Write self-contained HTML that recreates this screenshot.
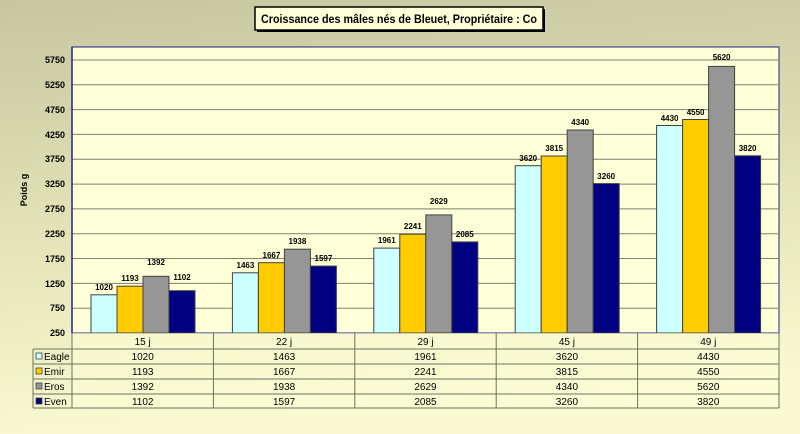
<!DOCTYPE html><html><head><meta charset="utf-8"><style>body{margin:0}svg{display:block}</style></head><body>
<svg width="800" height="434" xmlns="http://www.w3.org/2000/svg" font-family="Liberation Sans, sans-serif">
<defs><linearGradient id="bg" x1="0" y1="0" x2="0.15" y2="1"><stop offset="0" stop-color="#c6c6a0"/><stop offset="0.55" stop-color="#e4e4b8"/><stop offset="1" stop-color="#fafad2"/></linearGradient></defs>
<rect width="800" height="434" fill="url(#bg)"/>
<rect x="257" y="9" width="288" height="23" fill="#000"/>
<rect x="255" y="7" width="288" height="23" fill="#ffffd8" stroke="#000" stroke-width="1.5"/>
<text x="399" y="23" font-size="11.5" font-weight="bold" text-anchor="middle" textLength="276" lengthAdjust="spacingAndGlyphs">Croissance des mâles nés de Bleuet, Propriétaire : Co</text>
<rect x="72" y="47" width="707" height="286" fill="#ffffd8" stroke="#20208a" stroke-width="1"/>
<g stroke="#808070" stroke-width="1">
<line x1="72" x2="779" y1="308.2" y2="308.2"/><line x1="72" x2="779" y1="283.4" y2="283.4"/><line x1="72" x2="779" y1="258.5" y2="258.5"/><line x1="72" x2="779" y1="233.7" y2="233.7"/><line x1="72" x2="779" y1="208.9" y2="208.9"/><line x1="72" x2="779" y1="184.1" y2="184.1"/><line x1="72" x2="779" y1="159.3" y2="159.3"/><line x1="72" x2="779" y1="134.4" y2="134.4"/><line x1="72" x2="779" y1="109.6" y2="109.6"/><line x1="72" x2="779" y1="84.8" y2="84.8"/><line x1="72" x2="779" y1="60" y2="60"/>
</g>
<line x1="72" y1="47" x2="72" y2="333" stroke="#20208a" stroke-width="1.5"/>
<g font-size="9" font-weight="bold" text-anchor="end">
<text x="65" y="336">250</text><text x="65" y="311">750</text><text x="65" y="287">1250</text><text x="65" y="262">1750</text><text x="65" y="237">2250</text><text x="65" y="212">2750</text><text x="65" y="187">3250</text><text x="65" y="162">3750</text><text x="65" y="138">4250</text><text x="65" y="113">4750</text><text x="65" y="88">5250</text><text x="65" y="63">5750</text>
</g>
<text transform="translate(27,190) rotate(-90)" font-size="9" font-weight="bold" text-anchor="middle">Poids g</text>
<g stroke="#404040" stroke-width="1">
<rect x="91" y="294.8" width="26" height="38.2" fill="#ccffff"/><rect x="117" y="286.2" width="26" height="46.8" fill="#ffcc00"/><rect x="143" y="276.3" width="26" height="56.7" fill="#969696"/><rect x="169" y="290.7" width="26" height="42.3" fill="#000080"/>
<rect x="232.4" y="272.8" width="26" height="60.2" fill="#ccffff"/><rect x="258.4" y="262.7" width="26" height="70.3" fill="#ffcc00"/><rect x="284.4" y="249.2" width="26" height="83.8" fill="#969696"/><rect x="310.4" y="266.1" width="26" height="66.9" fill="#000080"/>
<rect x="373.8" y="248.1" width="26" height="84.9" fill="#ccffff"/><rect x="399.8" y="234.2" width="26" height="98.8" fill="#ffcc00"/><rect x="425.8" y="214.9" width="26" height="118.1" fill="#969696"/><rect x="451.8" y="241.9" width="26" height="91.1" fill="#000080"/>
<rect x="515.2" y="165.7" width="26" height="167.3" fill="#ccffff"/><rect x="541.2" y="156" width="26" height="177" fill="#ffcc00"/><rect x="567.2" y="130" width="26" height="203" fill="#969696"/><rect x="593.2" y="183.6" width="26" height="149.4" fill="#000080"/>
<rect x="656.6" y="125.5" width="26" height="207.5" fill="#ccffff"/><rect x="682.6" y="119.5" width="26" height="213.5" fill="#ffcc00"/><rect x="708.6" y="66.4" width="26" height="266.6" fill="#969696"/><rect x="734.6" y="155.8" width="26" height="177.2" fill="#000080"/>
</g>
<g font-size="8" font-weight="bold" text-anchor="middle" font-family="Liberation Sans Narrow, Liberation Sans, sans-serif">
<text x="104" y="290">1020</text><text x="130" y="281">1193</text><text x="156" y="265">1392</text><text x="182" y="280">1102</text>
<text x="245.4" y="268">1463</text><text x="271.4" y="258">1667</text><text x="297.4" y="244">1938</text><text x="323.4" y="261">1597</text>
<text x="386.8" y="243">1961</text><text x="412.8" y="229">2241</text><text x="438.8" y="204">2629</text><text x="464.8" y="237">2085</text>
<text x="528.2" y="161">3620</text><text x="554.2" y="151">3815</text><text x="580.2" y="125">4340</text><text x="606.2" y="179">3260</text>
<text x="669.6" y="121">4430</text><text x="695.6" y="115">4550</text><text x="721.6" y="60">5620</text><text x="747.6" y="151">3820</text>
</g>
<rect x="72" y="333" width="707" height="75" fill="#ffffd8" fill-opacity="0.5"/>
<g stroke="#707060" stroke-width="1" fill="none">
<line x1="72" y1="333" x2="72" y2="408"/><line x1="213.4" y1="333" x2="213.4" y2="408"/><line x1="354.8" y1="333" x2="354.8" y2="408"/><line x1="496.2" y1="333" x2="496.2" y2="408"/><line x1="637.6" y1="333" x2="637.6" y2="408"/><line x1="779" y1="333" x2="779" y2="408"/>
<line x1="33" y1="349" x2="779" y2="349"/><line x1="33" y1="364" x2="779" y2="364"/><line x1="33" y1="379" x2="779" y2="379"/><line x1="33" y1="394" x2="779" y2="394"/><line x1="33" y1="408" x2="779" y2="408"/><line x1="33" y1="349" x2="33" y2="408"/>
</g>
<g font-size="10" text-anchor="middle">
<text x="142.7" y="345">15 j</text><text x="284.1" y="345">22 j</text><text x="425.5" y="345">29 j</text><text x="566.9" y="345">45 j</text><text x="708.3" y="345">49 j</text>
<text x="142.7" y="360">1020</text><text x="284.1" y="360">1463</text><text x="425.5" y="360">1961</text><text x="566.9" y="360">3620</text><text x="708.3" y="360">4430</text>
<text x="142.7" y="375">1193</text><text x="284.1" y="375">1667</text><text x="425.5" y="375">2241</text><text x="566.9" y="375">3815</text><text x="708.3" y="375">4550</text>
<text x="142.7" y="390">1392</text><text x="284.1" y="390">1938</text><text x="425.5" y="390">2629</text><text x="566.9" y="390">4340</text><text x="708.3" y="390">5620</text>
<text x="142.7" y="405">1102</text><text x="284.1" y="405">1597</text><text x="425.5" y="405">2085</text><text x="566.9" y="405">3260</text><text x="708.3" y="405">3820</text>
</g>
<g stroke="#404040" stroke-width="0.8">
<rect x="36" y="353" width="6" height="6" fill="#ccffff"/><rect x="36" y="368" width="6" height="6" fill="#ffcc00"/><rect x="36" y="383" width="6" height="6" fill="#969696"/><rect x="36" y="398" width="6" height="6" fill="#000080"/>
</g>
<g font-size="10">
<text x="44" y="360">Eagle</text><text x="44" y="375">Emir</text><text x="44" y="390">Eros</text><text x="44" y="405">Even</text>
</g>
</svg>
</body></html>
